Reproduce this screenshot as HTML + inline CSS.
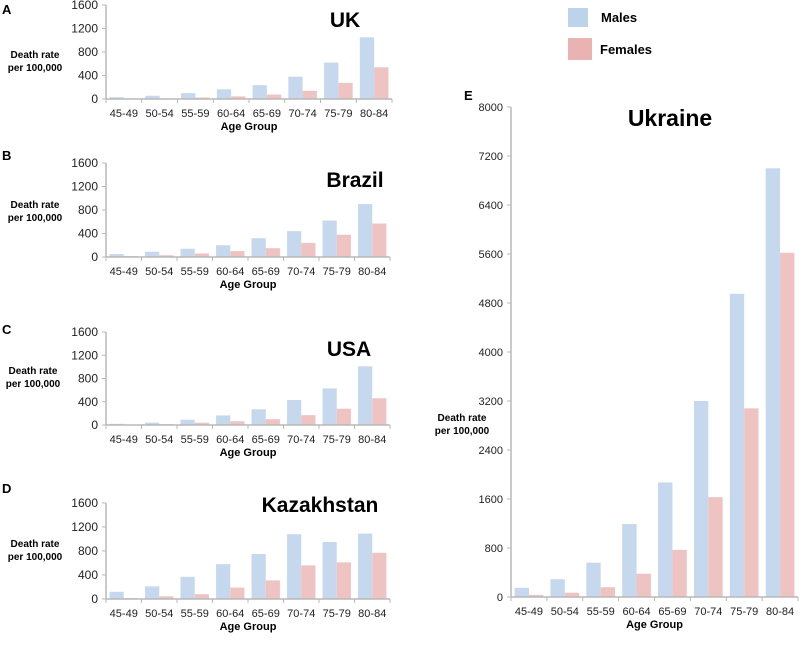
<!DOCTYPE html>
<html><head><meta charset="utf-8"><style>
body{margin:0;background:#fff;width:800px;height:642px;overflow:hidden}
svg{font-family:"Liberation Sans",Arial,sans-serif}
</style></head><body>
<svg id="c" width="800" height="642" xmlns="http://www.w3.org/2000/svg">
<g>
<rect x="568" y="8" width="20" height="19" fill="#bdd3ea"/>
<text x="601" y="22" font-size="13" font-weight="bold">Males</text>
<rect x="568" y="38" width="24" height="22" fill="#eab3b3"/>
<text x="600" y="54" font-size="13" font-weight="bold">Females</text>
</g>
</svg>
<script>
const categories=["45-49","50-54","55-59","60-64","65-69","70-74","75-79","80-84"];
const smallTicks=[0,400,800,1200,1600];
const ukraineTicks=[0,800,1600,2400,3200,4000,4800,5600,6400,7200,8000];
const ukMales=[30,55,100,165,235,380,620,1050];
const ukFemales=[5,10,25,45,75,140,275,540];
const brazilMales=[50,90,140,200,320,440,620,900];
const brazilFemales=[15,30,60,100,150,240,380,570];
const usaMales=[20,40,90,165,270,430,630,1010];
const usaFemales=[5,15,40,65,100,170,280,460];
const kazMales=[120,210,370,580,750,1080,950,1090];
const kazFemales=[15,45,80,190,310,560,610,770];
const ukrMales=[150,290,560,1190,1870,3200,4950,7000];
const ukrFemales=[35,70,160,380,770,1630,3080,5620];

const svg=document.getElementById('c');
const NS='http://www.w3.org/2000/svg';
function mk(tag,attrs,parent){const e=document.createElementNS(NS,tag);for(const k in attrs)e.setAttribute(k,attrs[k]);(parent||svg).appendChild(e);return e;}
function txt(s,attrs,parent){const e=mk('text',attrs,parent);e.textContent=s;return e;}

function panel(o){
  const g=mk('g',{});
  
  
  const max=o.ticks[o.ticks.length-1];
  const y=v=>o.y0-(v/max)*(o.y0-o.y1);
  const cw=(o.x1-o.x0)/categories.length;
  const x=i=>o.x0+i*cw;
  const bw=cw*0.4;
  categories.forEach((c,i)=>{
    const m=mk('rect',{x:x(i)+cw*0.1,y:y(o.m[i]),width:bw,height:o.y0-y(o.m[i]),fill:'#c5d8ed'},g);
    
    
    const f=mk('rect',{x:x(i)+cw*0.1+bw,y:y(o.f[i]),width:bw,height:o.y0-y(o.f[i]),fill:'#f0c3c3'},g);
    
    
  });
  const ya=mk('line',{x1:o.x0,y1:o.y1,x2:o.x0,y2:o.y0,stroke:'#b8b8b8','stroke-width':1.5},g);
  
  
  const xa=mk('line',{x1:o.x0,y1:o.y0,x2:o.x1,y2:o.y0,stroke:'#b8b8b8','stroke-width':1.5},g);
  
  
  o.ticks.forEach(t=>{
    mk('line',{x1:o.x0-4,y1:y(t),x2:o.x0,y2:y(t),stroke:'#b8b8b8'},g);
    const l=txt(String(t),{x:o.x0-8,y:y(t)+4,'font-size':o.tfs,'text-anchor':'end',fill:'#222'},g);
    
    
  });
  for(let i=0;i<=categories.length;i++) mk('line',{x1:x(i),y1:o.y0,x2:x(i),y2:o.y0+4,stroke:'#b8b8b8'},g);
  categories.forEach((c,i)=>{
    const l=txt(c,{x:x(i)+cw/2,y:o.y0+18,'font-size':11,'text-anchor':'middle',fill:'#222'},g);
    
    
  });
  const xt=txt('Age Group',{x:(o.x0+o.x1)/2,y:o.y0+31,'font-size':11,'font-weight':'bold','text-anchor':'middle'},g);
  
  
  const yt=txt('',{x:o.ytx,y:o.yty,'font-size':10,'font-weight':'bold','text-anchor':'middle'},g);
  
  
  const s1=mk('tspan',{x:o.ytx,dy:0},yt);s1.textContent='Death rate';
  const s2=mk('tspan',{x:o.ytx,dy:13},yt);s2.textContent='per 100,000';
  const tt=txt(o.title,{x:o.tx,y:o.ty,'font-size':o.tsz,'font-weight':'bold','text-anchor':'middle'},g);
  
  
  const lt=txt(o.letter,{x:o.lx,y:o.ly,'font-size':13,'font-weight':'bold'},g);
  
  
}
panel({name:'panel-uk',m:ukMales,f:ukFemales,x0:106,x1:392,y0:99,y1:5,ticks:smallTicks,tfs:12,title:'UK',tx:345,ty:27,tsz:21,letter:'A',lx:2,ly:14,ytx:35,yty:58});
panel({name:'panel-brazil',m:brazilMales,f:brazilFemales,x0:106,x1:390,y0:257,y1:163,ticks:smallTicks,tfs:12,title:'Brazil',tx:355,ty:187,tsz:21,letter:'B',lx:2,ly:160,ytx:35,yty:208});
panel({name:'panel-usa',m:usaMales,f:usaFemales,x0:106,x1:390,y0:425,y1:332,ticks:smallTicks,tfs:12,title:'USA',tx:349,ty:356,tsz:21,letter:'C',lx:2,ly:334,ytx:33,yty:374});
panel({name:'panel-kazakhstan',m:kazMales,f:kazFemales,x0:106,x1:390,y0:599,y1:503,ticks:smallTicks,tfs:12,title:'Kazakhstan',tx:320,ty:512,tsz:21,letter:'D',lx:2,ly:493,ytx:35,yty:547});
panel({name:'panel-ukraine',m:ukrMales,f:ukrFemales,x0:511,x1:798,y0:597,y1:107,ticks:ukraineTicks,tfs:11,title:'Ukraine',tx:670,ty:126,tsz:23,letter:'E',lx:464,ly:100,ytx:462,yty:421});
</script>
</body></html>
